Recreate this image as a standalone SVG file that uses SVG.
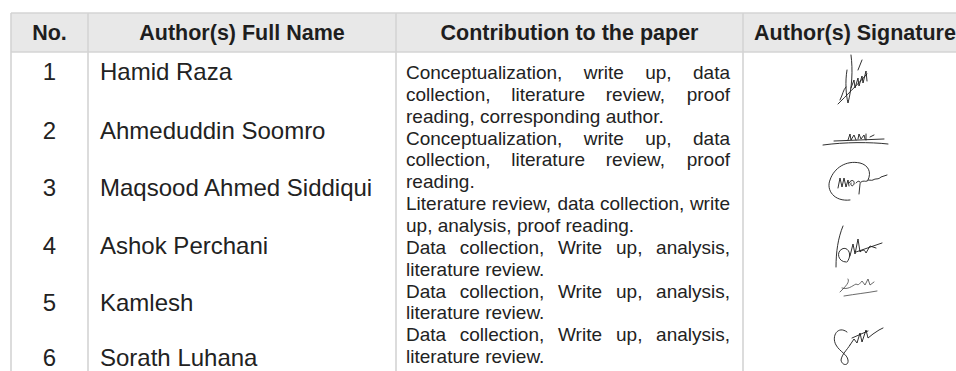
<svg xmlns="http://www.w3.org/2000/svg" width="956" height="371" viewBox="0 0 956 371">
<style>
.grid{stroke:#d4d4d4;stroke-width:1.6;fill:none}
.hd{font-family:"Liberation Sans",Arial,Helvetica,sans-serif;font-weight:bold;font-size:21.5px;fill:#1e1e1e;text-anchor:middle}
.num{font-family:"Liberation Sans",Arial,Helvetica,sans-serif;font-size:24px;fill:#222;text-anchor:middle}
.nm{font-family:"Liberation Sans",Arial,Helvetica,sans-serif;font-size:24px;fill:#222}
.ct{font-family:"Liberation Sans",Arial,Helvetica,sans-serif;font-size:19px;fill:#222}
.sig{fill:none;stroke:#1a1a1a;stroke-width:0.9;stroke-linecap:round;stroke-linejoin:round}
</style>
<rect width="956" height="371" fill="#ffffff"/>
<g id="table-grid">
<rect x="11" y="13" width="960" height="39" fill="#e8e8e8"/>
<line class="grid" x1="11" y1="13" x2="956" y2="13"/>
<line class="grid" x1="11" y1="52" x2="956" y2="52"/>
<line class="grid" x1="11" y1="13" x2="11" y2="371"/>
<line class="grid" x1="88" y1="13" x2="88" y2="371"/>
<line class="grid" x1="396" y1="13" x2="396" y2="371"/>
<line class="grid" x1="743" y1="13" x2="743" y2="371"/>
</g>
<g id="header">
<text class="hd" x="49.5" y="40">No.</text>
<text class="hd" x="242" y="40">Author(s) Full Name</text>
<text class="hd" x="569.5" y="40">Contribution to the paper</text>
<text class="hd" x="855" y="40">Author(s) Signature</text>
</g>
<g id="numbers">
<text class="num" x="49.5" y="80">1</text>
<text class="num" x="49.5" y="139">2</text>
<text class="num" x="49.5" y="196">3</text>
<text class="num" x="49.5" y="254">4</text>
<text class="num" x="49.5" y="311">5</text>
<text class="num" x="49.5" y="366">6</text>
</g>
<g id="names">
<text class="nm" x="100" y="80">Hamid Raza</text>
<text class="nm" x="100" y="139">Ahmeduddin Soomro</text>
<text class="nm" x="100" y="196">Maqsood Ahmed Siddiqui</text>
<text class="nm" x="100" y="254">Ashok Perchani</text>
<text class="nm" x="100" y="311">Kamlesh</text>
<text class="nm" x="100" y="366">Sorath Luhana</text>
</g>
<g id="contributions">
<text class="ct" y="79"><tspan x="406">Conceptualization,</tspan><tspan x="583.7">write</tspan><tspan x="645.2">up,</tspan><tspan x="693">data</tspan></text>
<text class="ct" y="100.9"><tspan x="406">collection,</tspan><tspan x="511.2">literature</tspan><tspan x="605.8">review,</tspan><tspan x="686.7">proof</tspan></text>
<text class="ct" x="406" y="122.7">reading, corresponding author.</text>
<text class="ct" y="144.6"><tspan x="406">Conceptualization,</tspan><tspan x="583.7">write</tspan><tspan x="645.2">up,</tspan><tspan x="693">data</tspan></text>
<text class="ct" y="166.4"><tspan x="406">collection,</tspan><tspan x="511.2">literature</tspan><tspan x="605.8">review,</tspan><tspan x="686.7">proof</tspan></text>
<text class="ct" x="406" y="188.3">reading.</text>
<text class="ct" y="210.1"><tspan x="406">Literature</tspan><tspan x="491.8">review,</tspan><tspan x="557.4">data</tspan><tspan x="599.9">collection,</tspan><tspan x="689.9">write</tspan></text>
<text class="ct" x="406" y="232">up, analysis, proof reading.</text>
<text class="ct" y="253.8"><tspan x="406">Data</tspan><tspan x="459.8">collection,</tspan><tspan x="558">Write</tspan><tspan x="616">up,</tspan><tspan x="656.1">analysis,</tspan></text>
<text class="ct" x="406" y="275.7">literature review.</text>
<text class="ct" y="297.5"><tspan x="406">Data</tspan><tspan x="459.8">collection,</tspan><tspan x="558">Write</tspan><tspan x="616">up,</tspan><tspan x="656.1">analysis,</tspan></text>
<text class="ct" x="406" y="319.4">literature review.</text>
<text class="ct" y="341.2"><tspan x="406">Data</tspan><tspan x="459.8">collection,</tspan><tspan x="558">Write</tspan><tspan x="616">up,</tspan><tspan x="656.1">analysis,</tspan></text>
<text class="ct" x="406" y="363">literature review.</text>
</g>
<g id="signatures">
<g id="sig1">
<path class="sig" d="M838,104 C846,96 856,86 867,74"/>
<path class="sig" d="M851,55 C853,70 852,88 848,103 C846,95 845,82 847,70"/>
<path class="sig" d="M851,88 l3,-8 l1,8 l3,-10 l1,8 l3,-10 l1,7 l3,-12 l1,10 M858,70 l4,-10"/>
<path class="sig" d="M840,100 C843,94 843,90 846,87"/>
</g>
<g id="sig2">
<path class="sig" d="M823,145 C845,142 870,142 888,144"/>
<path class="sig" d="M834,141 L884,139"/>
<path class="sig" d="M848,140 l2,-6 l1,6 l3,-5 l2,5 M858,139 l1,-5 l2,5 l3,-4 l1,4 M866,134 l0,6 M870,137 l4,-2"/>
</g>
<g id="sig3">
<path class="sig" d="M850,200 C834,202 826,190 830,180 C834,168 846,160 860,163 C868,165 872,172 868,180"/>
<path class="sig" d="M838,188 l2,-10 l2,9 l2,-9 l2,9 l2,-7 l1,6"/>
<path class="sig" d="M849,183 c2,-4 6,-3 5,1 c-1,3 -4,2 -3,-1 M856,183 c2,-3 5,-2 4,1 l-1,10 M861,182 c3,-2 4,0 6,-1 c2,-2 4,0 6,-1 c3,-2 5,0 8,-3 l6,-2"/>
</g>
<g id="sig4">
<path class="sig" d="M836,267 C836,252 838,238 843,226"/>
<path class="sig" d="M846,262 C838,262 836,252 842,249 C848,246 853,255 847,262"/>
<path class="sig" d="M850,256 l3,-12 l2,10 l3,-15 l2,13 c3,-3 5,-2 6,1 l4,-7 l6,2 M856,252 l26,-9"/>
</g>
<g id="sig5">
<path class="sig" style="stroke:#444;stroke-width:0.8" d="M840,292 C846,286 850,282 848,279 M842,288 c6,2 10,-2 14,-4 c3,2 4,-1 6,-3 l3,4 l3,-6 l2,6 l4,-3 M844,296 C856,294 866,293 877,291"/>
</g>
<g id="sig6">
<path class="sig" d="M847,332 C838,325 831,336 836,345 C840,352 847,354 848,360 C849,366 842,366 841,360 C842,354 847,350 850,345"/>
<path class="sig" d="M850,345 l4,-6 l3,4 l3,-10 l2,9 l4,-12 l2,8 l5,-4 l6,-4 l4,-2 M852,338 l16,-7"/>
</g>
</g>
</svg>
